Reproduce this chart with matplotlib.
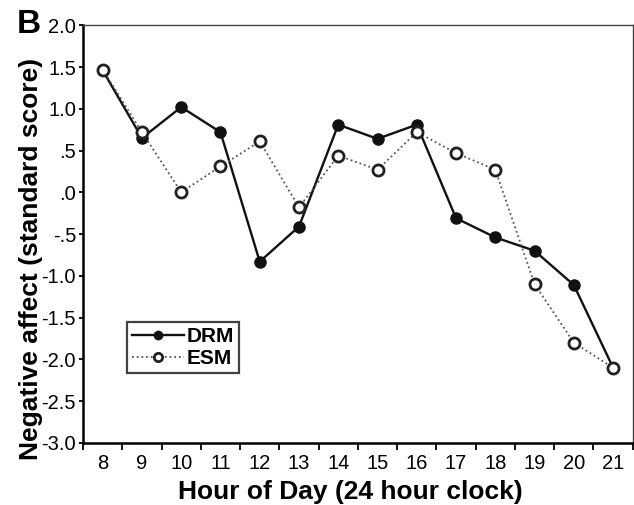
import matplotlib.pyplot as plt
import numpy as np

plt.rcParams['font.family'] = ['Liberation Sans', 'DejaVu Sans']

hours = [8, 9, 10, 11, 12, 13, 14, 15, 16, 17, 18, 19, 20, 21]
drm = [1.46, 0.65, 1.02, 0.72, -0.83, -0.41, 0.81, 0.64, 0.81, -0.31, -0.54, -0.70, -1.11, -2.10]
esm = [1.47, 0.72, 0.00, 0.31, 0.61, -0.18, 0.44, 0.27, 0.72, 0.47, 0.27, -1.10, -1.80, -2.10]
ytick_vals = [2.0, 1.5, 1.0, 0.5, 0.0, -0.5, -1.0, -1.5, -2.0, -2.5, -3.0]
ytick_labels = ["2.0", "1.5", "1.0", ".5", ".0", "-.5", "-1.0", "-1.5", "-2.0", "-2.5", "-3.0"]

fig = plt.figure(figsize=(6.34, 5.05), dpi=100)
ax = fig.add_axes([0.131, 0.123, 0.867, 0.827])

ax.plot(hours, drm, color='#111111', lw=1.7, marker='o', ms=8,
        mfc='#111111', mec='#111111', label='DRM', zorder=3)
ax.plot(hours, esm, color='#555555', lw=1.3, ls=(0, (1, 1.6)), marker='o', ms=8,
        mfc='white', mec='#222222', mew=2.0, label='ESM', zorder=4)

ax.set_xlim(7.5, 21.5)
ax.set_ylim(-3.0, 2.0)

# hour labels sit between the tick marks
ax.set_xticks(np.arange(7.5, 22, 1.0))
ax.set_xticklabels([])
ax.set_xticks(hours, minor=True)
ax.set_xticklabels([str(h) for h in hours], minor=True)
ax.tick_params(axis='x', which='major', direction='out', length=5, width=1.3)
ax.tick_params(axis='x', which='minor', length=0, pad=8, labelsize=14.5)

ax.set_yticks(ytick_vals)
ax.set_yticklabels(ytick_labels)
ax.tick_params(axis='y', direction='out', length=3, width=1.3, pad=2, labelsize=14.5)

for s in ['left', 'bottom']:
    ax.spines[s].set_linewidth(1.8)
for s in ['top', 'right']:
    ax.spines[s].set_linewidth(1.0)
    ax.spines[s].set_color('#444444')

# axis titles placed like the original (not centred on the axes)
fig.text(350 / 634, 1 - 492 / 505, "Hour of Day (24 hour clock)", fontsize=19,
         fontweight='bold', ha='center', va='center')
fig.text(31 / 634, 1 - 259 / 505, "Negative affect (standard score)", fontsize=19,
         fontweight='bold', ha='center', va='center', rotation=90)

leg = ax.legend(loc='lower left', bbox_to_anchor=(0.08, 0.167), borderaxespad=0,
                frameon=True, fancybox=False, edgecolor='#111111',
                handlelength=2.5, handletextpad=0.1,
                borderpad=0.25, labelspacing=0.15, markerscale=0.75,
                prop={'weight': 'bold', 'size': 15})
leg.get_frame().set_linewidth(1.6)

fig.text(17 / 634, 1 - 33 / 505, "B", fontsize=24, fontweight='bold')

fig.savefig("out.png", dpi=100)
